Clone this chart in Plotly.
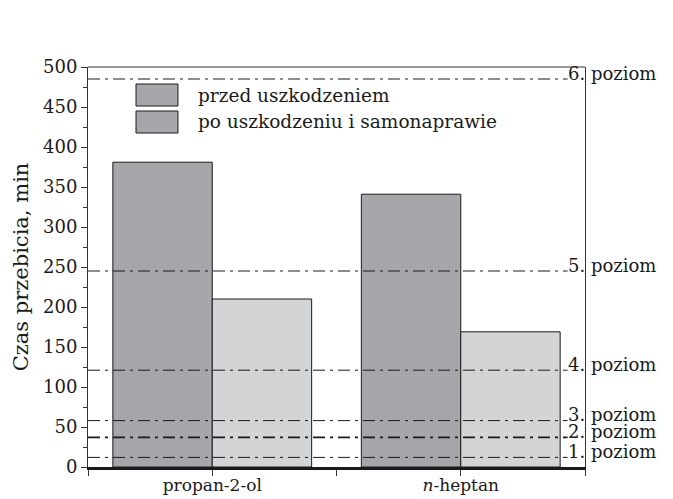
import plotly.graph_objects as go

# Breakthrough time of two solvents, before damage and after damage + self-repair
categories = ["propan-2-ol", "<i>n</i>-heptan"]
series_names = ["przed uszkodzeniem", "po uszkodzeniu i samonaprawie"]
before_damage = [381, 341]
after_repair = [210, 169]

# Protection level thresholds (min) and their labels
level_values = [12, 37, 58, 121, 245, 485]
level_labels = ["1. poziom", "2. poziom", "3. poziom", "4. poziom", "5. poziom", "6. poziom"]

y_ticks = [0, 50, 100, 150, 200, 250, 300, 350, 400, 450, 500]

FONT = "DejaVu Serif"
DARK = "#a7a7ab"
LIGHT = "#d3d4d6"
INK = "#1a1a1a"

x_pos = list(range(len(categories)))

fig = go.Figure()
fig.add_trace(go.Bar(
    x=x_pos, y=before_damage, name=series_names[0],
    marker=dict(color=DARK, line=dict(color=INK, width=1)),
    offsetgroup="a", width=0.4, offset=-0.4,
))
fig.add_trace(go.Bar(
    x=x_pos, y=after_repair, name=series_names[1],
    marker=dict(color=LIGHT, line=dict(color=INK, width=1)),
    offsetgroup="b", width=0.4, offset=0.0,
))

shapes = []
annotations = []

# Dash-dot threshold lines with their labels at the right edge
line_end = 1.43
for val, lab in zip(level_values, level_labels):
    shapes.append(dict(
        type="line", xref="x", yref="y", x0=-0.5, x1=line_end, y0=val, y1=val,
        line=dict(color=INK, width=1.6 if lab.startswith("2") else 1,
                  dash="12px,5px,3px,5px"),
        layer="above",
    ))
    annotations.append(dict(
        x=line_end, y=val, xref="x", yref="y", text=lab, showarrow=False,
        xanchor="left", yanchor="middle", yshift=6, xshift=-2,
        font=dict(family=FONT, size=18, color=INK),
    ))

# Top border of the frame
shapes.append(dict(type="line", xref="paper", yref="paper", x0=0, x1=1, y0=1, y1=1,
                   line=dict(color="#333333", width=1)))

# Hand-drawn legend: swatches + text
legend_rows = [(0.9575, 0.9025), (0.89, 0.835)]
for (y1, y0), name in zip(legend_rows, series_names):
    shapes.append(dict(type="rect", xref="paper", yref="paper",
                       x0=0.0966, x1=0.181, y0=y0, y1=y1,
                       fillcolor=DARK, line=dict(color=INK, width=1)))
    annotations.append(dict(x=0.218, y=(y0 + y1) / 2, xref="paper", yref="paper",
                            text=name, showarrow=False, xanchor="left", yanchor="middle",
                            font=dict(family=FONT, size=18.5, color=INK)))

fig.update_layout(
    width=673, height=499,
    margin=dict(l=88, r=88, t=67, b=32),
    paper_bgcolor="white", plot_bgcolor="white",
    showlegend=False,
    barmode="group",
    font=dict(family=FONT, size=17, color=INK),
    shapes=shapes,
    annotations=annotations,
    xaxis=dict(
        range=[-0.5, 1.5],
        tickvals=[-0.5, 0, 0.5, 1, 1.5],
        ticktext=["", categories[0], "", categories[1], ""],
        ticks="outside", ticklen=6, tickcolor="#333333", tickwidth=1,
        ticklabelstandoff=-5,
        showline=True, linecolor=INK, linewidth=2.5,
        showgrid=False, zeroline=False, automargin=False,
        tickfont=dict(family=FONT, size=17, color=INK),
    ),
    yaxis=dict(
        range=[0, 500],
        tickvals=y_ticks,
        ticks="outside", ticklen=6, tickcolor="#333333", tickwidth=1,
        minor=dict(dtick=25, ticks="outside", ticklen=4, tickcolor="#333333", showgrid=False),
        showline=True, linecolor="#333333", linewidth=1, mirror=True,
        showgrid=False, zeroline=False, automargin=False,
        tickfont=dict(family=FONT, size=18, color=INK),
        title=dict(text="Czas przebicia, min", font=dict(family=FONT, size=21, color=INK),
                   standoff=8),
    ),
)

fig.write_html("out.html")
